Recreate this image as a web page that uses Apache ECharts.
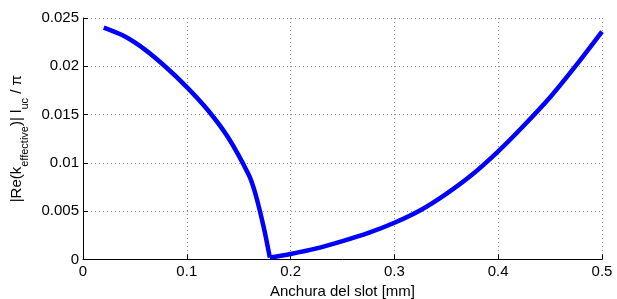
<!DOCTYPE html>
<html>
<head>
<meta charset="utf-8">
<script src="https://cdn.jsdelivr.net/npm/echarts@6/dist/echarts.min.js"></script>
<style>
html,body{margin:0;padding:0;background:#fff;}
#c{width:617px;height:299px;}
</style>
</head>
<body>
<div id="c"></div>
<script>
// left branch (decreasing to the minimum) and right branch (from the minimum)
const xLeft  = [0.02, 0.04, 0.06, 0.08, 0.1, 0.12, 0.14, 0.16, 0.165, 0.17, 0.175, 0.18];
const yLeft  = [0.0240, 0.0231, 0.0217, 0.0199, 0.01785, 0.0155, 0.0126, 0.0087, 0.0072, 0.0052, 0.0029, 0.0002];
const xRight = [0.18, 0.2, 0.225, 0.25, 0.275, 0.3, 0.325, 0.35, 0.375, 0.4, 0.425, 0.45, 0.475, 0.5];
const yRight = [0.0002, 0.00057, 0.00115, 0.0019, 0.00275, 0.0038, 0.0051, 0.0068, 0.0088, 0.0112, 0.0139, 0.0168, 0.0201, 0.0236];
const xTicks = [0, 0.1, 0.2, 0.3, 0.4, 0.5];
const yTicks = [0, 0.005, 0.01, 0.015, 0.02, 0.025];
const xLabel = 'Anchura del slot [mm]';

const left = xLeft.map((x, i) => [x, yLeft[i]]);
const right = xRight.map((x, i) => [x, yRight[i]]);
const FONT = 'Liberation Sans, Arial, sans-serif';
const chart = echarts.init(document.getElementById('c'), null, {renderer: 'canvas'});
const gridLine = {show: true, lineStyle: {color: '#8a8a8a', type: [1, 3], width: 1}};
const lineSeries = d => ({
  type: 'line', data: d, showSymbol: false, smooth: 0.3,
  lineStyle: {color: '#0000ff', width: 4.5, cap: 'butt', join: 'miter'}, itemStyle: {color: '#0000ff'}
});
chart.setOption({
  animation: false,
  grid: {left: 83, right: 15, top: 18, bottom: 39.5, containLabel: false, outerBoundsMode: 'none'},
  xAxis: {
    type: 'value', min: xTicks[0], max: xTicks[xTicks.length - 1], interval: 0.1,
    name: xLabel, nameLocation: 'middle', nameGap: 21,
    nameTextStyle: {fontFamily: FONT, fontSize: 15, color: '#000'},
    axisLine: {show: true, lineStyle: {color: '#000', width: 1}},
    axisTick: {show: true, inside: true, length: 5, lineStyle: {color: '#000'}},
    axisLabel: {fontFamily: FONT, fontSize: 15, color: '#000', margin: 5,
      formatter: v => String(+v.toFixed(3))},
    splitLine: gridLine
  },
  yAxis: {
    type: 'value', min: yTicks[0], max: yTicks[yTicks.length - 1], interval: 0.005,
    name: '{n||Re(k}{s|effective}{n|)| l}{s|uc}{n| / π}',
    nameLocation: 'middle', nameRotate: 90, nameGap: 50,
    nameTextStyle: {
      fontFamily: FONT, fontSize: 15, color: '#000',
      rich: {
        n: {fontFamily: FONT, fontSize: 15, color: '#000', lineHeight: 21, verticalAlign: 'top'},
        s: {fontFamily: FONT, fontSize: 11, color: '#000', lineHeight: 11, verticalAlign: 'bottom'}
      }
    },
    axisLine: {show: true, lineStyle: {color: '#000', width: 1}},
    axisTick: {show: true, inside: true, length: 5, lineStyle: {color: '#000'}},
    axisLabel: {fontFamily: FONT, fontSize: 15, color: '#000', margin: 4,
      formatter: v => String(+v.toFixed(4))},
    splitLine: gridLine
  },
  series: [lineSeries(left), lineSeries(right)]
});
</script>
</body>
</html>
